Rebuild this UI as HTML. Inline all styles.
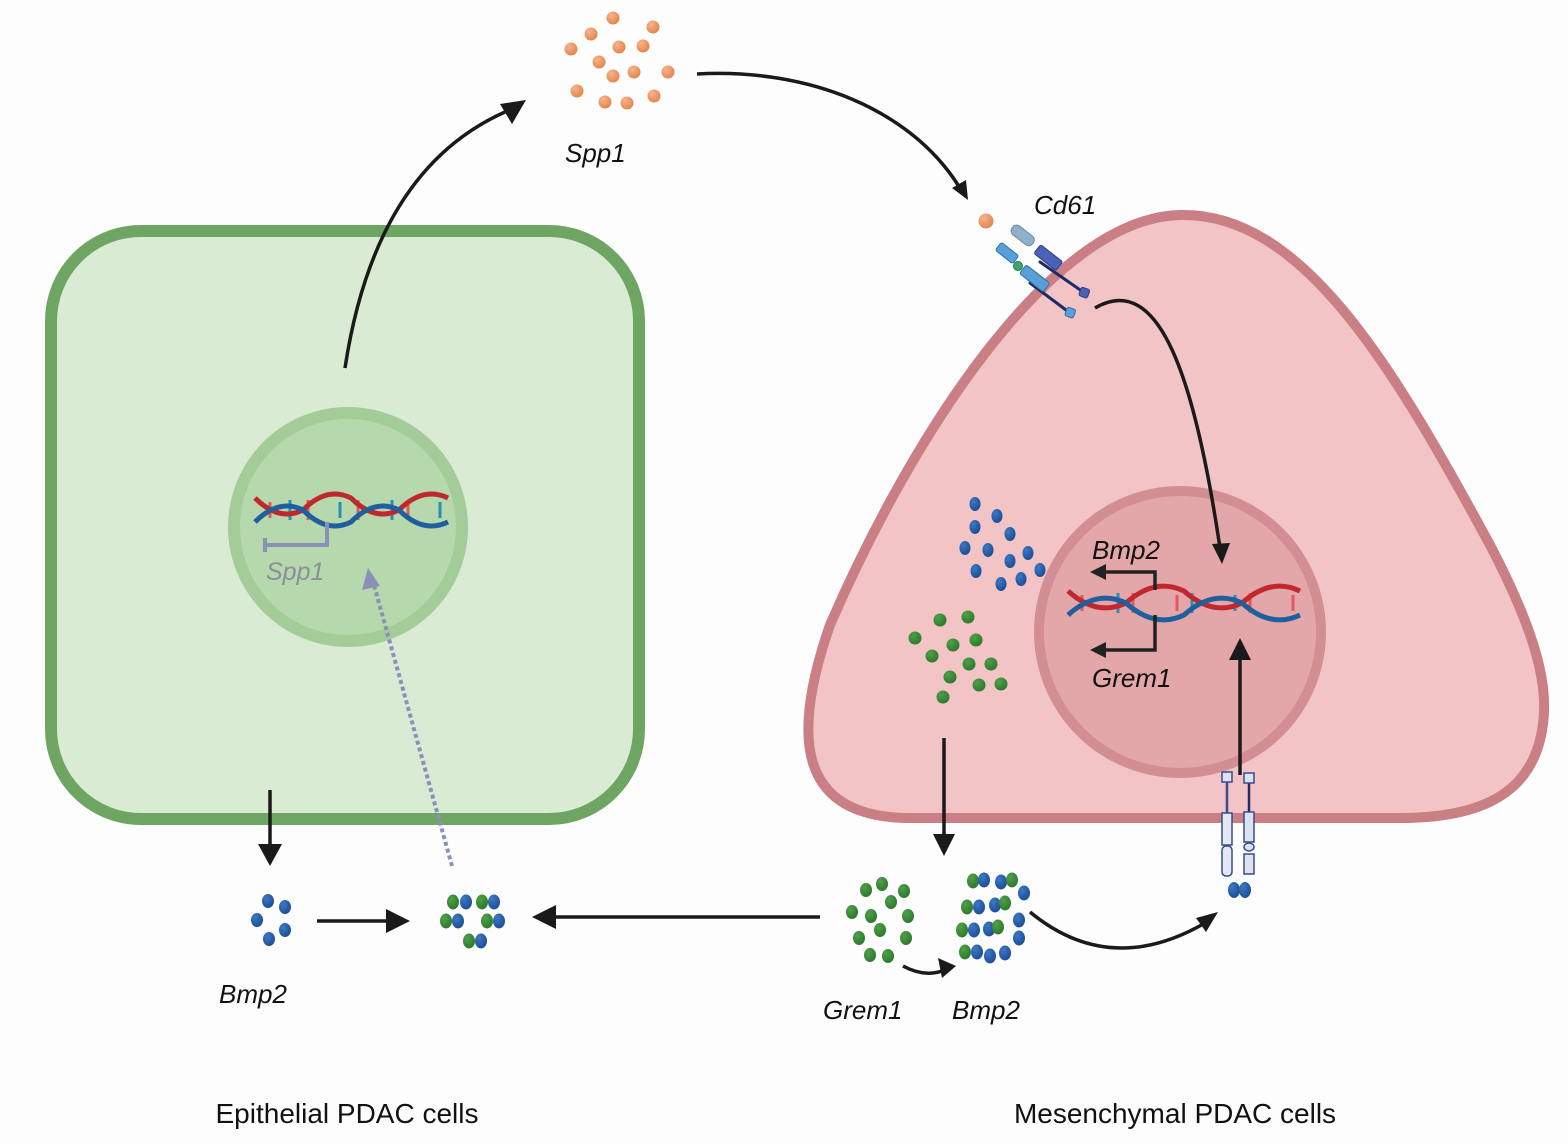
<!DOCTYPE html>
<html><head><meta charset="utf-8"><style>
html,body{margin:0;padding:0;background:#fdfdfd;}
svg{display:block}
text{font-family:"Liberation Sans",sans-serif;}
</style></head><body>
<svg width="1568" height="1144" viewBox="0 0 1568 1144" xmlns="http://www.w3.org/2000/svg">
<defs>
<radialGradient id="go" cx="0.35" cy="0.3" r="0.7"><stop offset="0" stop-color="#f6b48a"/><stop offset="1" stop-color="#e4874f"/></radialGradient>
<radialGradient id="gb" cx="0.35" cy="0.3" r="0.7"><stop offset="0" stop-color="#3d78c4"/><stop offset="1" stop-color="#1d4f97"/></radialGradient>
<radialGradient id="gg" cx="0.35" cy="0.3" r="0.7"><stop offset="0" stop-color="#4fa049"/><stop offset="1" stop-color="#2f7a2e"/></radialGradient>
</defs>
<rect width="1568" height="1144" fill="#fdfdfd"/>

<!-- green cell -->
<rect x="51" y="231" width="588" height="588" rx="90" fill="#d9ebd3" stroke="#6fa563" stroke-width="12"/>
<circle cx="348" cy="527" r="114" fill="#b6d8ad" stroke="#a3cc98" stroke-width="12"/>

<!-- pink cell -->
<path d="M1180,215 C1300,212 1390,360 1490,545 C1545,650 1550,700 1540,740 C1525,800 1470,818 1400,818 L905,818 C800,815 790,740 830,625 C910,440 1050,218 1180,215 Z" fill="#f2c4c6" stroke="#c97f84" stroke-width="10"/>
<circle cx="1180" cy="632" r="141" fill="#e4a7a9" stroke="#d28e92" stroke-width="10"/>

<!-- DNA left -->
<g stroke-width="5" fill="none">
<g stroke-width="3">
<line x1="270" y1="502" x2="270" y2="518" stroke="#e05a5a"/><line x1="290" y1="500" x2="290" y2="520" stroke="#2a8fb8"/><line x1="308" y1="500" x2="308" y2="520" stroke="#e05a5a"/><line x1="340" y1="502" x2="340" y2="518" stroke="#2a8fb8"/><line x1="358" y1="500" x2="358" y2="520" stroke="#e05a5a"/><line x1="392" y1="500" x2="392" y2="520" stroke="#2a8fb8"/><line x1="408" y1="500" x2="408" y2="520" stroke="#e05a5a"/><line x1="440" y1="502" x2="440" y2="518" stroke="#2a8fb8"/>
</g>
<path d="M255,498 q24,24 48,12 q24,-24 48,-12 q24,24 48,12 q24,-24 49,-12" stroke="#c0282e"/>
<path d="M255,522 q24,-24 48,-12 q24,24 48,12 q24,-24 48,-12 q24,24 49,12" stroke="#1f5f9e"/>
</g>
<path d="M265,538 L265,552 M265,545 L327,545 L327,522" stroke="#8a90b8" stroke-width="4" fill="none"/>
<text x="266" y="580" font-size="25" font-style="italic" fill="#8a8f99">Spp1</text>

<!-- DNA right -->
<g stroke-width="5" fill="none">
<g stroke-width="3">
<line x1="1082" y1="595" x2="1082" y2="611" stroke="#e05a5a"/><line x1="1118" y1="593" x2="1118" y2="613" stroke="#2a8fb8"/><line x1="1133" y1="593" x2="1133" y2="613" stroke="#e05a5a"/><line x1="1177" y1="595" x2="1177" y2="611" stroke="#e05a5a"/><line x1="1192" y1="593" x2="1192" y2="613" stroke="#2a8fb8"/><line x1="1235" y1="595" x2="1235" y2="611" stroke="#2a8fb8"/><line x1="1250" y1="593" x2="1250" y2="613" stroke="#e05a5a"/><line x1="1293" y1="595" x2="1293" y2="611" stroke="#e05a5a"/>
</g>
<path d="M1068,591 q29,26 58,12 q29,-26 58,-12 q29,26 58,12 q29,-26 58,-12" stroke="#c0282e"/>
<path d="M1068,615 q29,-26 58,-12 q29,26 58,12 q29,-26 58,-12 q29,26 58,12" stroke="#1f5f9e"/>
</g>
<path d="M1155,590 L1155,572 L1100,572 M1155,615 L1155,650 L1100,650" stroke="#222" stroke-width="3.5" fill="none"/>
<polygon points="1090,572 1106,564 1106,580" fill="#222"/>
<polygon points="1090,650 1106,642 1106,658" fill="#222"/>
<text x="1092" y="559" font-size="26" font-style="italic" fill="#111">Bmp2</text>
<text x="1092" y="687" font-size="26" font-style="italic" fill="#111">Grem1</text>

<!-- arrows -->
<g stroke="#1a1a1a" stroke-width="3.5" fill="none">
<path d="M345,368 Q375,170 505,112"/>
<path d="M697,74 C810,68 910,110 958,185"/>
<path d="M1095,308 C1160,270 1195,380 1220,548"/>
<path d="M270,790 L270,848"/>
<path d="M317,921 L392,921"/>
<path d="M820,917 L550,917"/>
<path d="M944,738 L944,838"/>
<path d="M903,966 Q925,978 945,970"/>
<path d="M1030,912 Q1110,978 1205,923"/>
<path d="M1240,775 L1240,655"/>
</g>
<g fill="#1a1a1a">
<polygon points="526,100 500,104 512,124"/>
<polygon points="968,200 952,188 966,180"/>
<polygon points="1222,564 1212,544 1230,543"/>
<polygon points="270,866 258,844 282,844"/>
<polygon points="410,921 386,909 386,933"/>
<polygon points="532,917 556,905 556,929"/>
<polygon points="944,856 933,834 955,834"/>
<polygon points="956,966 938,958 942,978"/>
<polygon points="1218,912 1196,918 1206,932"/>
<polygon points="1240,638 1229,660 1251,660"/>
</g>
<path d="M452,866 L374,585" stroke="#8a90b8" stroke-width="4" stroke-dasharray="4,3" fill="none"/>
<polygon points="368,568 362,590 380,586" fill="#8a90b8"/>

<!-- orange dots -->
<g fill="url(#go)">
<circle cx="613" cy="18" r="6.5"/><circle cx="653" cy="27" r="6.5"/><circle cx="591" cy="34" r="6.5"/><circle cx="571" cy="49" r="6.5"/><circle cx="619" cy="47" r="6.5"/><circle cx="643" cy="46" r="6.5"/><circle cx="599" cy="62" r="6.5"/><circle cx="613" cy="76" r="6.5"/><circle cx="634" cy="72" r="6.5"/><circle cx="668" cy="72" r="6.5"/><circle cx="577" cy="91" r="6.5"/><circle cx="605" cy="102" r="6.5"/><circle cx="627" cy="103" r="6.5"/><circle cx="654" cy="96" r="6.5"/>
<circle cx="986" cy="221" r="7.5"/>
</g>
<text x="565" y="162" font-size="26" font-style="italic" fill="#111">Spp1</text>
<text x="1034" y="214" font-size="26" font-style="italic" fill="#111">Cd61</text>

<!-- Cd61 receptor -->
<g stroke-linecap="round">
<line x1="1040" y1="262" x2="1086" y2="294" stroke="#1e2a6a" stroke-width="3"/>
<line x1="1030" y1="283" x2="1070" y2="313" stroke="#1e2a6a" stroke-width="3"/>
<rect x="1010" y="230" width="26" height="11" rx="5" fill="#8fb0c8" stroke="#6a8aa8" transform="rotate(38 1023 235)"/>
<rect x="1034" y="252" width="28" height="11" rx="2" fill="#4a62b8" stroke="#2a3e8a" transform="rotate(38 1048 258)"/>
<rect x="1080" y="288" width="9" height="9" rx="2" fill="#4a62b8" stroke="#2a3e8a" transform="rotate(20 1084 292)"/>
<rect x="996" y="248" width="22" height="10" rx="2" fill="#5aa0d8" stroke="#2f6fa8" transform="rotate(38 1007 253)"/>
<circle cx="1018" cy="266" r="4.5" fill="#3aa86a" stroke="#2a7a4a"/>
<rect x="1020" y="273" width="30" height="11" rx="2" fill="#5aa0d8" stroke="#2f6fa8" transform="rotate(38 1035 278)"/>
<rect x="1066" y="308" width="9" height="9" rx="2" fill="#5aa0d8" stroke="#2f6fa8" transform="rotate(20 1070 312)"/>
</g>

<!-- bottom right receptor -->
<g stroke="#3a4a8a" stroke-width="1.5">
<line x1="1227" y1="780" x2="1227" y2="815" stroke-width="2.5"/>
<line x1="1249" y1="780" x2="1249" y2="815" stroke-width="2.5" stroke="#1e2a6a"/>
<rect x="1222" y="772" width="10" height="10" fill="#dde2f0"/>
<rect x="1244" y="773" width="10" height="10" fill="#dde2f0"/>
<rect x="1222" y="813" width="10" height="32" fill="#e4e8f4"/>
<rect x="1222" y="846" width="10" height="30" rx="4" fill="#e4e8f4"/>
<rect x="1244" y="812" width="10" height="30" fill="#dde2f0"/>
<ellipse cx="1249" cy="847" rx="5" ry="4" fill="#dde2f0"/>
<rect x="1244" y="854" width="10" height="20" fill="#dde2f0"/>
</g>
<g fill="url(#gb)"><ellipse cx="1234" cy="890" rx="6" ry="8"/><ellipse cx="1245" cy="890" rx="6" ry="8"/></g>

<!-- blue dots in pink cell -->
<g fill="url(#gb)">
<ellipse cx="975" cy="504" rx="5.5" ry="7"/><ellipse cx="997" cy="516" rx="5.5" ry="7"/><ellipse cx="975" cy="527" rx="5.5" ry="7"/><ellipse cx="1010" cy="534" rx="5.5" ry="7"/><ellipse cx="965" cy="548" rx="5.5" ry="7"/><ellipse cx="988" cy="550" rx="5.5" ry="7"/><ellipse cx="1010" cy="561" rx="5.5" ry="7"/><ellipse cx="1028" cy="553" rx="5.5" ry="7"/><ellipse cx="976" cy="571" rx="5.5" ry="7"/><ellipse cx="1040" cy="570" rx="5.5" ry="7"/><ellipse cx="1001" cy="584" rx="5.5" ry="7"/><ellipse cx="1021" cy="579" rx="5.5" ry="7"/>
</g>
<g fill="url(#gg)">
<circle cx="940" cy="620" r="6.5"/><circle cx="968" cy="617" r="6.5"/><circle cx="915" cy="638" r="6.5"/><circle cx="953" cy="645" r="6.5"/><circle cx="976" cy="640" r="6.5"/><circle cx="932" cy="656" r="6.5"/><circle cx="969" cy="664" r="6.5"/><circle cx="991" cy="664" r="6.5"/><circle cx="950" cy="677" r="6.5"/><circle cx="979" cy="685" r="6.5"/><circle cx="1001" cy="684" r="6.5"/><circle cx="943" cy="697" r="6.5"/>
</g>

<!-- bottom left blue -->
<g fill="url(#gb)">
<ellipse cx="268" cy="901" rx="6" ry="7"/><ellipse cx="285" cy="907" rx="6" ry="7"/><ellipse cx="257" cy="920" rx="6" ry="7"/><ellipse cx="285" cy="930" rx="6" ry="7"/><ellipse cx="269" cy="939" rx="6" ry="7"/>
</g>
<text x="219" y="1003" font-size="26" font-style="italic" fill="#111">Bmp2</text>

<!-- left mixed pairs -->
<g>
<ellipse cx="453" cy="902" rx="6" ry="7.5" fill="url(#gg)"/><ellipse cx="466" cy="902" rx="6" ry="7.5" fill="url(#gb)"/>
<ellipse cx="482" cy="902" rx="6" ry="7.5" fill="url(#gg)"/><ellipse cx="494" cy="902" rx="6" ry="7.5" fill="url(#gb)"/>
<ellipse cx="446" cy="921" rx="6" ry="7.5" fill="url(#gg)"/><ellipse cx="458" cy="921" rx="6" ry="7.5" fill="url(#gb)"/>
<ellipse cx="487" cy="921" rx="6" ry="7.5" fill="url(#gg)"/><ellipse cx="499" cy="921" rx="6" ry="7.5" fill="url(#gb)"/>
<ellipse cx="469" cy="941" rx="6" ry="7.5" fill="url(#gg)"/><ellipse cx="481" cy="941" rx="6" ry="7.5" fill="url(#gb)"/>
</g>

<!-- grem1 cluster -->
<g fill="url(#gg)">
<ellipse cx="866" cy="890" rx="6" ry="7"/><ellipse cx="882" cy="884" rx="6" ry="7"/><ellipse cx="904" cy="891" rx="6" ry="7"/><ellipse cx="852" cy="912" rx="6" ry="7"/><ellipse cx="871" cy="916" rx="6" ry="7"/><ellipse cx="891" cy="902" rx="6" ry="7"/><ellipse cx="908" cy="916" rx="6" ry="7"/><ellipse cx="880" cy="930" rx="6" ry="7"/><ellipse cx="859" cy="938" rx="6" ry="7"/><ellipse cx="906" cy="938" rx="6" ry="7"/><ellipse cx="870" cy="955" rx="6" ry="7"/><ellipse cx="888" cy="956" rx="6" ry="7"/>
</g>
<!-- mixed cluster -->
<g>
<ellipse cx="973" cy="881" rx="6" ry="7.5" fill="url(#gg)"/><ellipse cx="984" cy="880" rx="6" ry="7.5" fill="url(#gb)"/>
<ellipse cx="1001" cy="882" rx="6" ry="7.5" fill="url(#gb)"/><ellipse cx="1012" cy="880" rx="6" ry="7.5" fill="url(#gg)"/>
<ellipse cx="1024" cy="893" rx="6" ry="7.5" fill="url(#gb)"/>
<ellipse cx="967" cy="907" rx="6" ry="7.5" fill="url(#gg)"/><ellipse cx="979" cy="907" rx="6" ry="7.5" fill="url(#gb)"/>
<ellipse cx="995" cy="905" rx="6" ry="7.5" fill="url(#gb)"/><ellipse cx="1005" cy="903" rx="6" ry="7.5" fill="url(#gg)"/>
<ellipse cx="1019" cy="920" rx="6" ry="7.5" fill="url(#gb)"/>
<ellipse cx="962" cy="930" rx="6" ry="7.5" fill="url(#gg)"/><ellipse cx="974" cy="930" rx="6" ry="7.5" fill="url(#gb)"/>
<ellipse cx="989" cy="929" rx="6" ry="7.5" fill="url(#gb)"/><ellipse cx="998" cy="927" rx="6" ry="7.5" fill="url(#gg)"/>
<ellipse cx="1019" cy="938" rx="6" ry="7.5" fill="url(#gb)"/>
<ellipse cx="965" cy="952" rx="6" ry="7.5" fill="url(#gg)"/><ellipse cx="977" cy="952" rx="6" ry="7.5" fill="url(#gb)"/>
<ellipse cx="990" cy="956" rx="6" ry="7.5" fill="url(#gb)"/><ellipse cx="1005" cy="953" rx="6" ry="7.5" fill="url(#gb)"/>
</g>
<text x="823" y="1019" font-size="26" font-style="italic" fill="#111">Grem1</text>
<text x="952" y="1019" font-size="26" font-style="italic" fill="#111">Bmp2</text>

<text x="347" y="1123" font-size="28" fill="#111" text-anchor="middle">Epithelial PDAC cells</text>
<text x="1175" y="1123" font-size="28" fill="#111" text-anchor="middle">Mesenchymal PDAC cells</text>
</svg>
</body></html>
